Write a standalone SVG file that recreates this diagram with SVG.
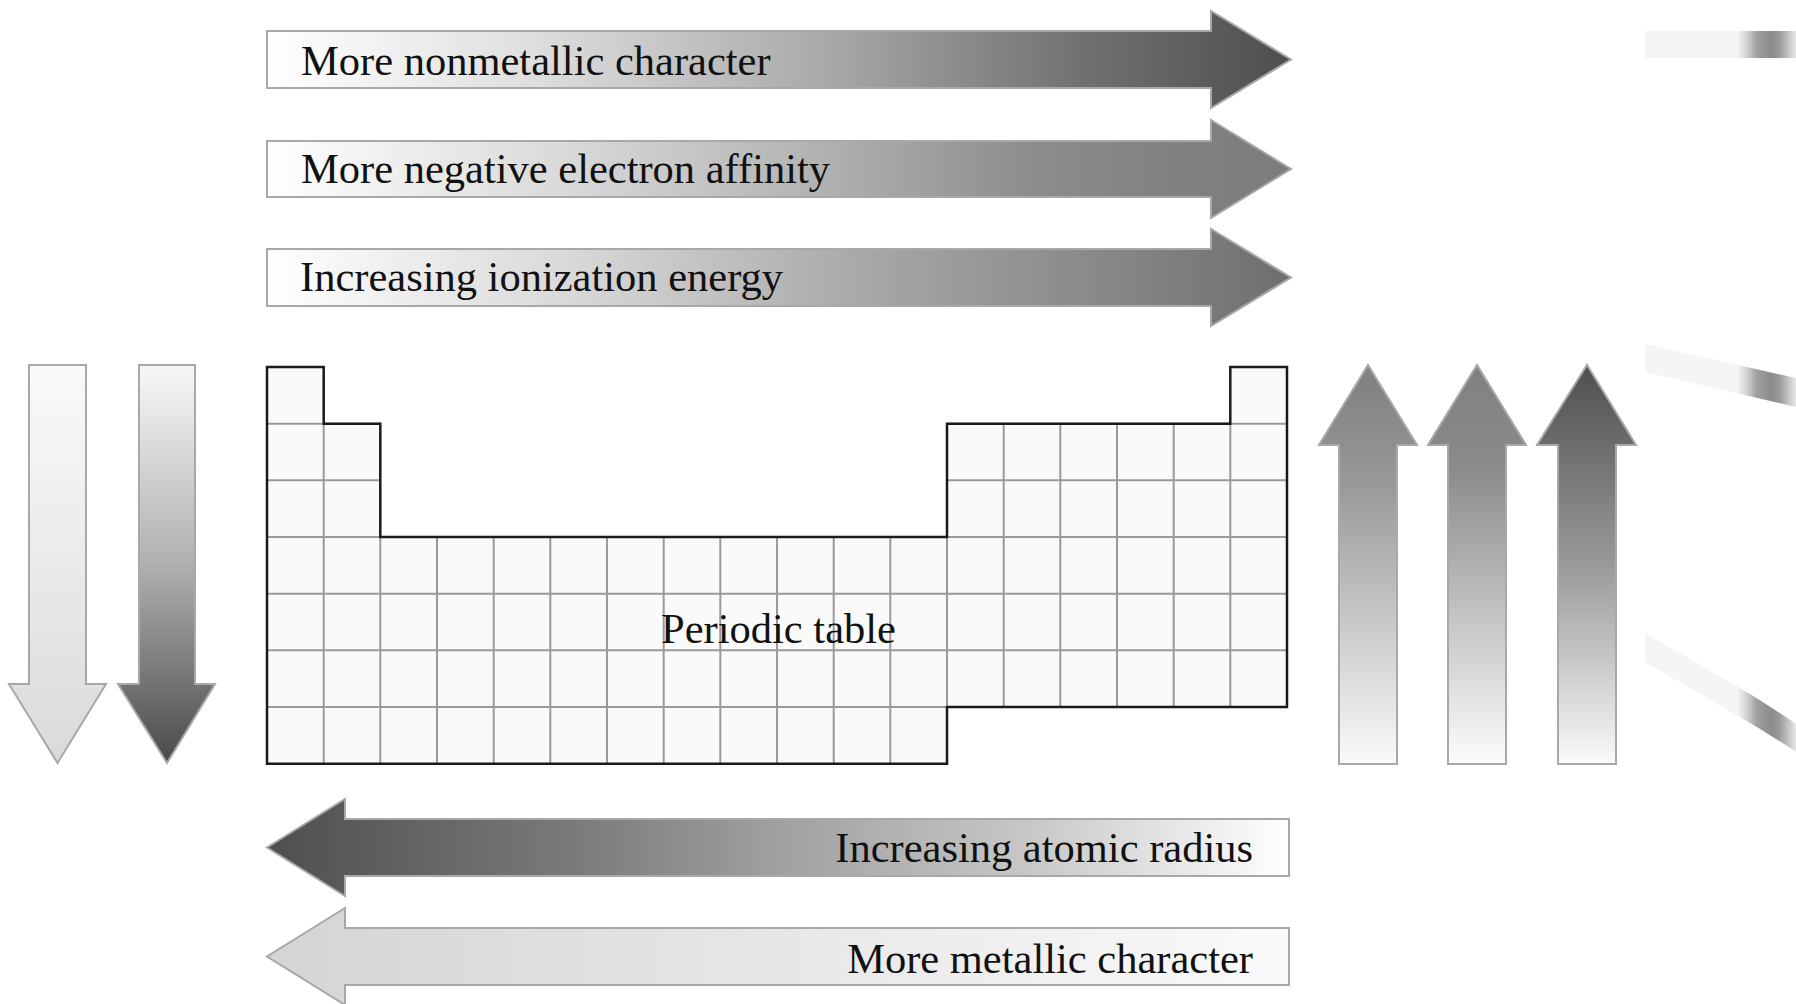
<svg xmlns="http://www.w3.org/2000/svg" width="1796" height="1004" viewBox="0 0 1796 1004">
  <style>
    .lbl { font-family: "Liberation Serif", "Times New Roman", serif; font-size: 42.5px; fill: #111; }
    .arr { stroke: #a8a8a8; stroke-width: 2; stroke-linejoin: miter; }
    .grid { stroke: #9a9a9a; stroke-width: 2; fill: none; }
    .outline { stroke: #1a1a1a; stroke-width: 2.5; fill: none; }
  </style>
  <defs>
    <linearGradient id="gNonmet" x1="0" y1="0" x2="1" y2="0">
      <stop offset="0" stop-color="#ffffff"/>
      <stop offset="0.25" stop-color="#e0e0e0"/>
      <stop offset="0.55" stop-color="#a8a8a8"/>
      <stop offset="0.8" stop-color="#707070"/>
      <stop offset="1" stop-color="#4e4e4e"/>
    </linearGradient>
    <linearGradient id="gAffin" x1="0" y1="0" x2="1" y2="0">
      <stop offset="0" stop-color="#ffffff"/>
      <stop offset="0.3" stop-color="#d8d8d8"/>
      <stop offset="0.55" stop-color="#b0b0b0"/>
      <stop offset="0.75" stop-color="#8c8c8c"/>
      <stop offset="0.88" stop-color="#818181"/>
      <stop offset="1" stop-color="#7c7c7c"/>
    </linearGradient>
    <linearGradient id="gIon" x1="0" y1="0" x2="1" y2="0">
      <stop offset="0" stop-color="#ffffff"/>
      <stop offset="0.3" stop-color="#d8d8d8"/>
      <stop offset="0.6" stop-color="#a5a5a5"/>
      <stop offset="0.8" stop-color="#8a8a8a"/>
      <stop offset="1" stop-color="#6e6e6e"/>
    </linearGradient>
    <linearGradient id="gRadius" x1="0" y1="0" x2="1" y2="0">
      <stop offset="0" stop-color="#4e4e4e"/>
      <stop offset="0.3" stop-color="#7a7a7a"/>
      <stop offset="0.5" stop-color="#a0a0a0"/>
      <stop offset="0.75" stop-color="#c8c8c8"/>
      <stop offset="1" stop-color="#ffffff"/>
    </linearGradient>
    <linearGradient id="gMetal" x1="0" y1="0" x2="1" y2="0">
      <stop offset="0" stop-color="#d4d4d4"/>
      <stop offset="1" stop-color="#fafafa"/>
    </linearGradient>
    <linearGradient id="gDownA" x1="0" y1="0" x2="0" y2="1">
      <stop offset="0" stop-color="#fafafa"/>
      <stop offset="1" stop-color="#dadada"/>
    </linearGradient>
    <linearGradient id="gDownB" x1="0" y1="0" x2="0" y2="1">
      <stop offset="0" stop-color="#f8f8f8"/>
      <stop offset="0.5" stop-color="#b0b0b0"/>
      <stop offset="1" stop-color="#4a4a4a"/>
    </linearGradient>
    <linearGradient id="gUpC" x1="0" y1="0" x2="0" y2="1">
      <stop offset="0" stop-color="#7e7e7e"/>
      <stop offset="0.3" stop-color="#999999"/>
      <stop offset="1" stop-color="#fafafa"/>
    </linearGradient>
    <linearGradient id="gUpD" x1="0" y1="0" x2="0" y2="1">
      <stop offset="0" stop-color="#808080"/>
      <stop offset="0.25" stop-color="#8a8a8a"/>
      <stop offset="1" stop-color="#fcfcfc"/>
    </linearGradient>
    <linearGradient id="gUpE" x1="0" y1="0" x2="0" y2="1">
      <stop offset="0" stop-color="#4f4f4f"/>
      <stop offset="0.5" stop-color="#999999"/>
      <stop offset="1" stop-color="#fafafa"/>
    </linearGradient>
    <linearGradient id="gStrip" x1="0" y1="0" x2="1" y2="0">
      <stop offset="0" stop-color="#f5f5f5"/>
      <stop offset="0.61" stop-color="#f5f5f5"/>
      <stop offset="0.65" stop-color="#e0e0e0"/>
      <stop offset="0.7" stop-color="#c0c0c0"/>
      <stop offset="0.74" stop-color="#a0a0a0"/>
      <stop offset="0.8" stop-color="#939393"/>
      <stop offset="0.84" stop-color="#8c8c8c"/>
      <stop offset="0.89" stop-color="#9a9a9a"/>
      <stop offset="0.95" stop-color="#c5c5c5"/>
      <stop offset="1" stop-color="#e8e8e8"/>
    </linearGradient>
  </defs>

  <rect width="1796" height="1004" fill="#ffffff"/>

  <g id="arrow-nonmetallic">
    <path class="arr" fill="url(#gNonmet)" d="M267,31 H1211 V11 L1291,59.5 L1211,108 V88 H267 Z"/>
    <text class="lbl" x="301" y="75">More nonmetallic character</text>
  </g>
  <g id="arrow-affinity">
    <path class="arr" fill="url(#gAffin)" d="M267,141 H1211 V120 L1291,169 L1211,218 V197 H267 Z"/>
    <text class="lbl" x="301" y="183">More negative electron affinity</text>
  </g>
  <g id="arrow-ionization">
    <path class="arr" fill="url(#gIon)" d="M267,249 H1211 V229 L1291,277.5 L1211,326 V306 H267 Z"/>
    <text class="lbl" x="300" y="291">Increasing ionization energy</text>
  </g>

  <g id="arrow-down-a">
    <path class="arr" fill="url(#gDownA)" d="M29,365 H86 V684 H106 L57.5,763 L9,684 H29 Z"/>
  </g>
  <g id="arrow-down-b">
    <path class="arr" fill="url(#gDownB)" d="M139,365 H195 V684 H215 L167,763 L118,684 H139 Z"/>
  </g>

  <g id="periodic-table">
    <path fill="#fafafa" d="M267,367 H323.7 V423.7 H380.3 V537 H947 V423.7 H1230.3 V367 H1287 V707 H947 V763.7 H267 Z"/>
    <g class="grid">
      <line x1="267" y1="423.7" x2="380.3" y2="423.7"/>
      <line x1="947" y1="423.7" x2="1287" y2="423.7"/>
      <line x1="267" y1="480.3" x2="380.3" y2="480.3"/>
      <line x1="947" y1="480.3" x2="1287" y2="480.3"/>
      <line x1="267" y1="537" x2="1287" y2="537"/>
      <line x1="267" y1="593.7" x2="1287" y2="593.7"/>
      <line x1="267" y1="650.3" x2="1287" y2="650.3"/>
      <line x1="267" y1="707" x2="947" y2="707"/>
      <line x1="323.7" y1="423.7" x2="323.7" y2="763.7"/>
      <line x1="380.3" y1="537" x2="380.3" y2="763.7"/>
      <line x1="437" y1="537" x2="437" y2="763.7"/>
      <line x1="493.7" y1="537" x2="493.7" y2="763.7"/>
      <line x1="550.3" y1="537" x2="550.3" y2="763.7"/>
      <line x1="607" y1="537" x2="607" y2="763.7"/>
      <line x1="663.7" y1="537" x2="663.7" y2="763.7"/>
      <line x1="720.3" y1="537" x2="720.3" y2="763.7"/>
      <line x1="777" y1="537" x2="777" y2="763.7"/>
      <line x1="833.7" y1="537" x2="833.7" y2="763.7"/>
      <line x1="890.3" y1="537" x2="890.3" y2="763.7"/>
      <line x1="947" y1="537" x2="947" y2="707"/>
      <line x1="1003.7" y1="423.7" x2="1003.7" y2="707"/>
      <line x1="1060.3" y1="423.7" x2="1060.3" y2="707"/>
      <line x1="1117" y1="423.7" x2="1117" y2="707"/>
      <line x1="1173.7" y1="423.7" x2="1173.7" y2="707"/>
      <line x1="1230.3" y1="423.7" x2="1230.3" y2="707"/>
    </g>
    <path class="outline" d="M267,367 H323.7 V423.7 H380.3 V537 H947 V423.7 H1230.3 V367 H1287 V707 H947 V763.7 H267 Z"/>
    <text class="lbl" x="778.5" y="643" text-anchor="middle">Periodic table</text>
  </g>

  <g id="arrow-up-c">
    <path class="arr" fill="url(#gUpC)" d="M1339,764 V445 H1319 L1368,365 L1417,445 H1397 V764 Z"/>
  </g>
  <g id="arrow-up-d">
    <path class="arr" fill="url(#gUpD)" d="M1448,764 V445 H1428 L1477,365 L1526,445 H1506 V764 Z"/>
  </g>
  <g id="arrow-up-e">
    <path class="arr" fill="url(#gUpE)" d="M1558,764 V445 H1537 L1587,365 L1636,445 H1616 V764 Z"/>
  </g>

  <g id="arrow-radius">
    <path class="arr" fill="url(#gRadius)" d="M1289,819 H345 V799 L267,847.5 L345,896 V876 H1289 Z"/>
    <text class="lbl" x="1253" y="862" text-anchor="end">Increasing atomic radius</text>
  </g>
  <g id="arrow-metallic">
    <path class="arr" fill="url(#gMetal)" d="M1289,928 H345 V908 L267,956.5 L345,1005 V985 H1289 Z"/>
    <text class="lbl" x="1253" y="973" text-anchor="end">More metallic character</text>
  </g>

  <g id="edge-strips">
    <rect x="1645" y="31" width="151" height="27" fill="url(#gStrip)"/>
    <path fill="url(#gStrip)" d="M1645,344 L1796,378 L1796,407 L1645,372 Z"/>
    <path fill="url(#gStrip)" d="M1645,633 L1740,688 Q1770,706 1796,724 L1796,752 Q1768,733 1738,716 L1645,662 Z"/>
  </g>

  <g id="connectors"></g>
</svg>
